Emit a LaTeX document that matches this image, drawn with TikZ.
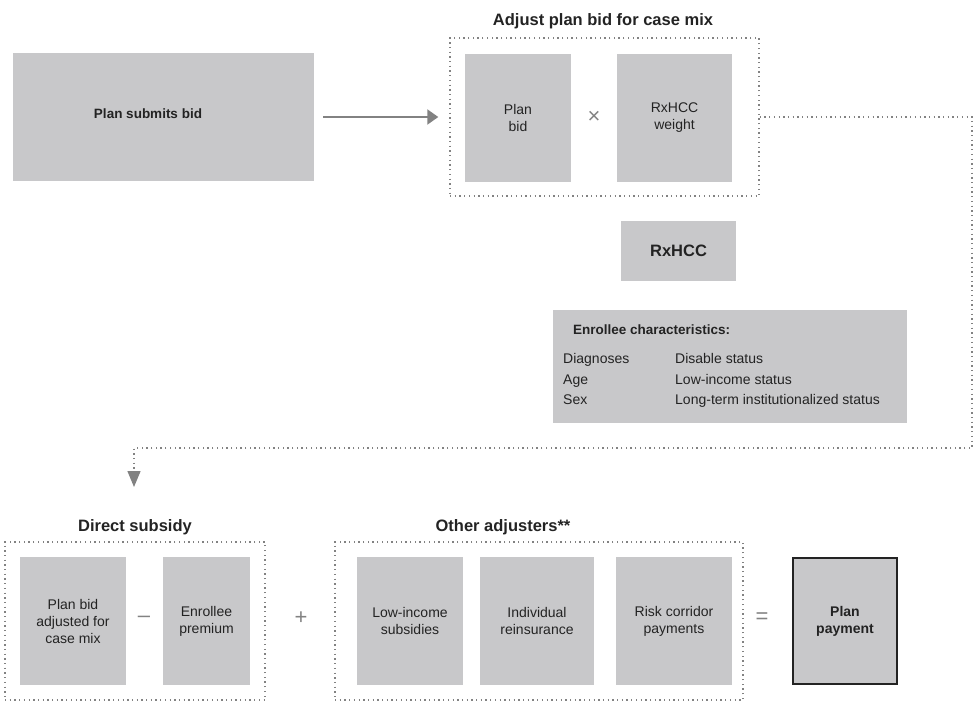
\documentclass[tikz,border=0pt]{standalone}
\usepackage{fontspec}
\setmainfont{Liberation Sans}
\usetikzlibrary{positioning,arrows.meta}
\definecolor{boxgray}{RGB}{200,200,202}
\definecolor{dotgray}{RGB}{130,130,130}
\definecolor{ink}{RGB}{35,35,35}

\begin{document}
\begin{tikzpicture}[x=1pt,y=-1pt,font=\fontsize{14}{17}\selectfont,text=ink,
box/.style={fill=boxgray, inner sep=0pt, align=center, minimum height=128pt},
group/.style={draw=dotgray, line width=1.4pt, dash pattern=on 1.3pt off 3.4pt, inner sep=0pt, minimum height=158pt},
heading/.style={anchor=base, font=\fontsize{16.5}{19}\selectfont\bfseries},
op/.style={text=dotgray, font=\fontsize{22}{24}\selectfont},
row/.style={anchor=base west, inner sep=0pt}]
\useasboundingbox (0,0) rectangle (973,702);

% top row
\node[box, minimum width=301pt] (submit) at (163.5,117) {};
\node[anchor=base, font=\fontsize{13.5}{17}\selectfont\bfseries] (submittext) at (148,118) {Plan submits bid};
\node[group, minimum width=309pt] (adjbox) at (604.5,117) {};
\node[heading] (adjtitle) at (603,25) {Adjust plan bid for case mix};
\node[box, minimum width=106pt] (planbid) at (518,118) {Plan\\bid};
\node[op] (times) at (594,117) {×};
\node[box, minimum width=115pt] (weight) at (674.5,118) {RxHCC\\weight};
\draw[-{Triangle[width=15pt,length=11pt]}, dotgray, line width=2pt, shorten <=9pt, shorten >=11pt] (submit) -- (adjbox);

% RxHCC and enrollee characteristics
\node[box, minimum width=115pt, minimum height=60pt, font=\fontsize{16.5}{19}\selectfont\bfseries] (rxhcc) at (678.5,251) {RxHCC};
\node[box, minimum width=354pt, minimum height=113pt] (enrollee) at (730,366.5) {};
\node[row, font=\fontsize{13.5}{17}\selectfont\bfseries] (enrtitle) at (573,334) {Enrollee characteristics:};
\node[row] (diag) at (563,363) {Diagnoses};
\node[row] (age) at (563,384) {Age};
\node[row] (sex) at (563,404) {Sex};
\node[row] (disable) at (675,363) {Disable status};
\node[row] (lowstatus) at (675,384) {Low-income status};
\node[row] (longterm) at (675,404) {Long-term institutionalized status};

% connector down to the direct subsidy
\coordinate (rightedge) at (972,448);
\coordinate (drop) at (134,487);
\draw[dotgray, line width=1.4pt, dash pattern=on 1.3pt off 3.4pt, -{Triangle[width=13pt,length=16pt]}] (adjbox.east) -| (rightedge) -| (drop);

% bottom row
\node[group, minimum width=260pt] (subbox) at (135,621) {};
\node[heading] (subtitle) at (135,531) {Direct subsidy};
\node[box, minimum width=106pt] (adjusted) at (73,621) {Plan bid\\adjusted for\\case mix};
\node[op] (minus) at (144,619) {–};
\node[box, minimum width=87pt] (premium) at (206.5,621) {Enrollee\\premium};
\node[op] (plus) at (301,618) {+};
\node[group, minimum width=408pt] (otherbox) at (539,621) {};
\node[heading] (othertitle) at (503,531) {Other adjusters**};
\node[box, minimum width=106pt] (lowinc) at (410,621) {Low-income\\subsidies};
\node[box, minimum width=114pt] (reins) at (537,621) {Individual\\reinsurance};
\node[box, minimum width=116pt] (corridor) at (674,621) {Risk corridor\\payments};
\node[op] (equals) at (762,618) {=};
\node[box, draw=ink, line width=2pt, minimum width=104pt, minimum height=126pt, font=\fontsize{14}{17}\selectfont\bfseries] (payment) at (845,621) {Plan\\payment};
\end{tikzpicture}
\end{document}
